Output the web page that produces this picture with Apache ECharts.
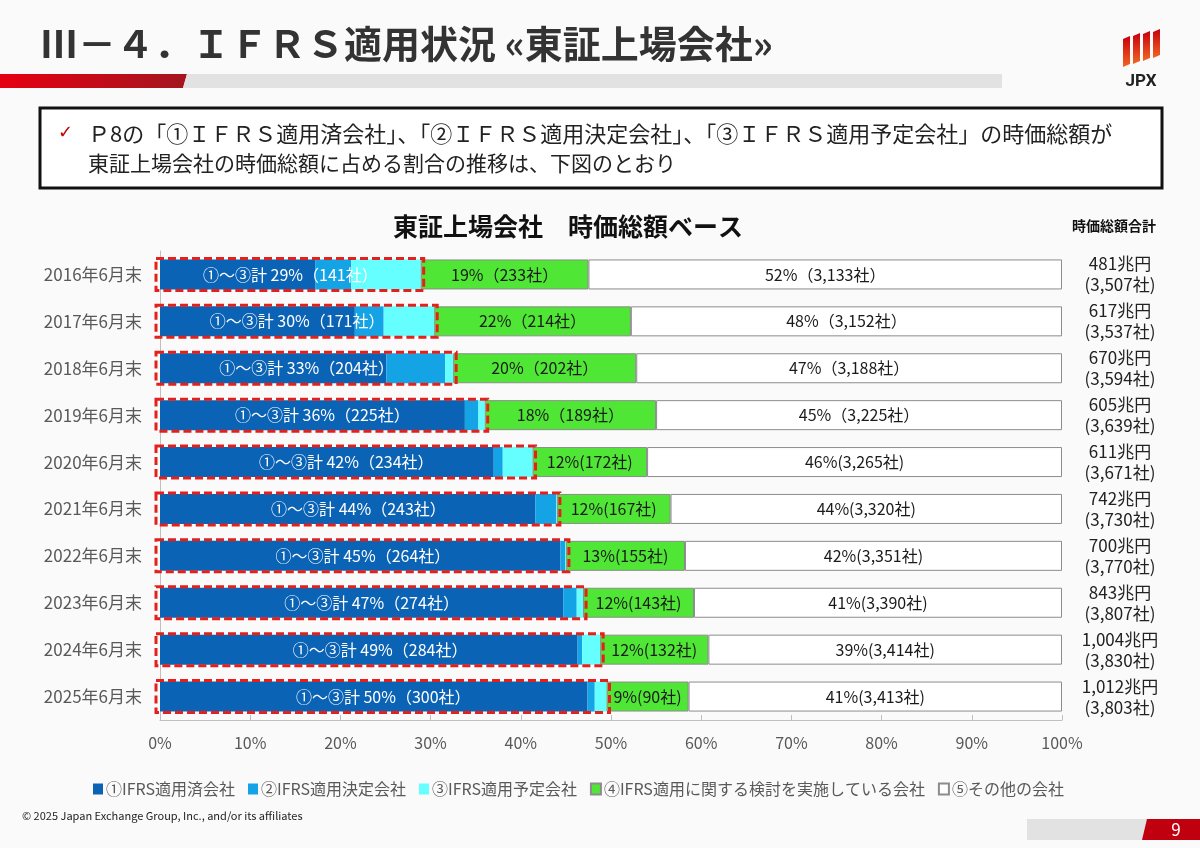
<!DOCTYPE html>
<html lang="ja">
<head>
    <meta charset="UTF-8">
    <title>IFRS適用状況</title>
    <script src="https://cdn.jsdelivr.net/npm/echarts@6.0.0/dist/echarts.min.js"></script>
    <style>
        html, body { margin: 0; padding: 0; background: #fafafa; }
        #box { width: 1200px; height: 848px; }
    </style>
</head>
<body>
<div id="box"></div>
<script>
    // 年度（6月末）
    var years = ['2016年6月末', '2017年6月末', '2018年6月末', '2019年6月末', '2020年6月末',
        '2021年6月末', '2022年6月末', '2023年6月末', '2024年6月末', '2025年6月末'];

    // 時価総額に占める割合（%）
    var applied = [17.2, 21.6, 25.1, 33.8, 37.0, 41.6, 44.4, 44.7, 46.3, 47.4];
    var decided = [4.0, 3.2, 6.5, 1.5, 1.0, 2.3, 0.5, 1.5, 0.5, 0.8];
    var planned = [7.7, 5.6, 0.9, 0.7, 3.3, 0.1, 0.1, 0.7, 2.0, 1.3];
    var studying = [18.6, 21.8, 20.3, 19.0, 12.7, 12.6, 13.2, 12.3, 12.0, 9.1];
    var others = [52.5, 47.8, 47.2, 45.0, 46.0, 43.4, 41.8, 40.8, 39.2, 41.4];

    // ラベル
    var sumLabels = ['①～③計 29%（141社）', '①～③計 30%（171社）', '①～③計 33%（204社）', '①～③計 36%（225社）',
        '①～③計 42%（234社）', '①～③計 44%（243社）', '①～③計 45%（264社）', '①～③計 47%（274社）',
        '①～③計 49%（284社）', '①～③計 50%（300社）'];
    var studyLabels = ['19%（233社）', '22%（214社）', '20%（202社）', '18%（189社）', '12%(172社)',
        '12%(167社)', '13%(155社)', '12%(143社)', '12%(132社)', '9%(90社)'];
    var otherLabels = ['52%（3,133社）', '48%（3,152社）', '47%（3,188社）', '45%（3,225社）', '46%(3,265社)',
        '44%(3,320社)', '42%(3,351社)', '41%(3,390社)', '39%(3,414社)', '41%(3,413社)'];
    var totalLabels = ['481兆円\n(3,507社)', '617兆円\n(3,537社)', '670兆円\n(3,594社)', '605兆円\n(3,639社)',
        '611兆円\n(3,671社)', '742兆円\n(3,730社)', '700兆円\n(3,770社)', '843兆円\n(3,807社)',
        '1,004兆円\n(3,830社)', '1,012兆円\n(3,803社)'];

    var seriesNames = ['①IFRS適用済会社', '②IFRS適用決定会社', '③IFRS適用予定会社',
        '④IFRS適用に関する検討を実施している会社', '⑤その他の会社'];

    var FONT = '"Noto Sans CJK JP", "Noto Sans", sans-serif';

    // ①～③の合計（赤点線枠用）
    var sums = [];
    for (var i = 0; i < years.length; i++) {
        sums.push([applied[i] + decided[i] + planned[i], i]);
    }

    var myChart = echarts.init(document.getElementById('box'));

    var barBase = {
        type: 'bar',
        stack: 'all',
        barWidth: 30,
        silent: true
    };

    function segLabel(arr) {
        return {
            show: true,
            position: 'inside',
            color: '#1a1a1a',
            fontSize: 16,
            fontFamily: FONT,
            formatter: function (p) { return arr[p.dataIndex]; }
        };
    }

    // JPXロゴの縦縞
    var stripes = [[1123, 36, 67], [1133, 33, 64], [1143, 31, 61], [1153, 29, 58]];
    var logo = stripes.map(function (s) {
        return {
            type: 'polygon',
            shape: { points: [[s[0], s[1] + 3], [s[0] + 7, s[1]], [s[0] + 7, s[2] - 3], [s[0], s[2]]] },
            style: {
                fill: new echarts.graphic.LinearGradient(0, 0, 0, 1, [
                    { offset: 0, color: '#c8000f' },
                    { offset: 1, color: '#f26522' }
                ])
            }
        };
    });

    var option = {
        backgroundColor: '#fafafa',
        textStyle: { fontFamily: FONT },
        animation: false,
        grid: { left: 160, right: 138, top: 251, bottom: 128 },
        legend: {
            data: seriesNames,
            left: 88,
            top: 776,
            itemWidth: 10,
            itemHeight: 11,
            itemGap: 13,
            icon: 'rect',
            textStyle: { fontSize: 16, color: '#595959', fontFamily: FONT, padding: [0, 0, 0, -2] }
        },
        xAxis: {
            type: 'value',
            min: 0,
            max: 100,
            interval: 10,
            axisLine: { show: true, lineStyle: { color: '#bfbfbf' } },
            axisTick: { show: true, inside: true, length: 5, lineStyle: { color: '#bfbfbf' } },
            splitLine: { show: false },
            axisLabel: { formatter: '{value}%', fontSize: 16, color: '#595959', margin: 15 }
        },
        yAxis: [
            {
                type: 'category',
                inverse: true,
                data: years,
                axisLine: { show: true, lineStyle: { color: '#bfbfbf' } },
                axisTick: { show: false },
                axisLabel: { fontSize: 17, color: '#595959', margin: 18 }
            },
            {
                type: 'category',
                inverse: true,
                position: 'right',
                data: totalLabels,
                axisLine: { show: false },
                axisTick: { show: false },
                axisLabel: { fontSize: 17, color: '#222', margin: 58, align: 'center', lineHeight: 21 }
            }
        ],
        series: [
            Object.assign({}, barBase, {
                name: seriesNames[0], data: applied,
                itemStyle: { color: '#0b63b5' }
            }),
            Object.assign({}, barBase, {
                name: seriesNames[1], data: decided,
                itemStyle: { color: '#14a4e6' }
            }),
            Object.assign({}, barBase, {
                name: seriesNames[2], data: planned,
                itemStyle: { color: '#66ffff', borderColor: '#8c8c8c', borderWidth: 0 }
            }),
            Object.assign({}, barBase, {
                name: seriesNames[3], data: studying,
                itemStyle: { color: '#4fe635', borderColor: '#8c8c8c', borderWidth: 1 },
                label: segLabel(studyLabels)
            }),
            Object.assign({}, barBase, {
                name: seriesNames[4], data: others,
                itemStyle: { color: '#ffffff', borderColor: '#8c8c8c', borderWidth: 1 },
                label: segLabel(otherLabels)
            }),
            {
                // ①～③計の赤点線枠とラベル
                type: 'custom',
                name: 'sum',
                silent: true,
                z: 10,
                data: sums,
                encode: { x: 0, y: 1 },
                renderItem: function (params, api) {
                    var idx = params.dataIndex;
                    var p0 = api.coord([0, idx]);
                    var p1 = api.coord([api.value(0), idx]);
                    var h = 30;
                    return {
                        type: 'group',
                        children: [
                            {
                                type: 'rect',
                                shape: { x: p0[0] - 4, y: p0[1] - h / 2 - 1, width: p1[0] - p0[0] + 7, height: h + 2 },
                                style: { fill: 'none', stroke: '#e3201b', lineWidth: 3, lineDash: [8, 4] }
                            },
                            {
                                type: 'text',
                                x: (p0[0] + p1[0]) / 2,
                                y: p0[1],
                                style: {
                                    text: sumLabels[idx],
                                    fill: '#ffffff',
                                    fontSize: 16,
                                    fontFamily: FONT,
                                    align: 'center',
                                    verticalAlign: 'middle'
                                }
                            }
                        ]
                    };
                }
            }
        ],
        graphic: [
            // タイトル
            {
                type: 'text', left: 40, top: 25,
                style: { text: 'Ⅲ－４．ＩＦＲＳ適用状況 «東証上場会社»', fontSize: 38, fontWeight: 'bold', fill: '#333', fontFamily: FONT }
            },
            {
                type: 'polygon',
                shape: { points: [[0, 74], [187, 74], [183, 88], [0, 88]] },
                style: {
                    fill: new echarts.graphic.LinearGradient(0, 0, 1, 0, [
                        { offset: 0, color: '#e60012' },
                        { offset: 1, color: '#a3161f' }
                    ])
                }
            },
            {
                type: 'polygon',
                shape: { points: [[187, 74], [1002, 74], [1002, 88], [183, 88]] },
                style: { fill: '#e2e2e2' }
            },
            // ロゴ
            { type: 'group', children: logo },
            {
                type: 'text', x: 1141, y: 82,
                style: { text: 'JPX', fontSize: 17, fontWeight: 'bold', fill: '#222', align: 'center', verticalAlign: 'middle', fontFamily: 'Roboto, sans-serif' }
            },
            // 説明ボックス
            {
                type: 'rect',
                shape: { x: 40, y: 108, width: 1122, height: 80 },
                style: { fill: '#ffffff', stroke: '#111', lineWidth: 3 }
            },
            {
                type: 'text', x: 58, y: 133,
                style: { text: '✓', fontSize: 18, fill: '#c00000', verticalAlign: 'middle', fontFamily: 'DejaVu Sans' }
            },
            {
                type: 'text', x: 88, y: 134,
                style: { text: 'Ｐ8の「①ＩＦＲＳ適用済会社」、「②ＩＦＲＳ適用決定会社」、「③ＩＦＲＳ適用予定会社」の時価総額が', fontSize: 22, fill: '#222', verticalAlign: 'middle', fontFamily: FONT }
            },
            {
                type: 'text', x: 88, y: 163,
                style: { text: '東証上場会社の時価総額に占める割合の推移は、下図のとおり', fontSize: 21, fill: '#222', verticalAlign: 'middle', fontFamily: FONT }
            },
            // グラフタイトル
            {
                type: 'text', x: 568, y: 226,
                style: { text: '東証上場会社　時価総額ベース', fontSize: 25, fontWeight: 'bold', fill: '#111', align: 'center', verticalAlign: 'middle', fontFamily: FONT }
            },
            {
                type: 'text', x: 1114, y: 226,
                style: { text: '時価総額合計', fontSize: 14, fontWeight: 'bold', fill: '#111', align: 'center', verticalAlign: 'middle', fontFamily: FONT }
            },
            // フッター
            {
                type: 'text', x: 22, y: 816,
                style: { text: '© 2025 Japan Exchange Group, Inc., and/or its affiliates', fontSize: 11, fill: '#222', verticalAlign: 'middle', fontFamily: FONT }
            },
            {
                type: 'rect',
                shape: { x: 1027, y: 819, width: 120, height: 21 },
                style: { fill: '#e2e2e2' }
            },
            {
                type: 'polygon',
                shape: { points: [[1147, 819], [1200, 819], [1200, 840], [1142, 840]] },
                style: { fill: '#c0000f' }
            },
            {
                type: 'text', x: 1176, y: 830,
                style: { text: '9', fontSize: 17, fill: '#fff', align: 'center', verticalAlign: 'middle', fontFamily: FONT }
            }
        ]
    };

    myChart.setOption(option);
</script>
</body>
</html>
